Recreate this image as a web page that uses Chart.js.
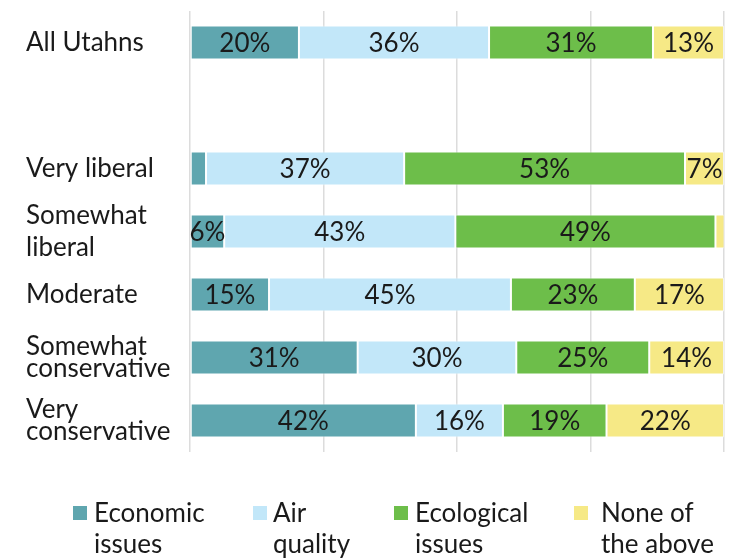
<!DOCTYPE html>
<html>
<head>
<meta charset="utf-8">
<script src="https://cdn.jsdelivr.net/npm/chart.js@4/dist/chart.umd.min.js"></script>
<style>
  html, body { margin: 0; padding: 0; background: #fff; }
  #wrap { width: 736px; height: 558px; }
</style>
</head>
<body>
<div id="wrap"><canvas id="barChart" width="736" height="558"></canvas></div>
<script>
var groups = ['All Utahns', '', 'Very liberal', ['Somewhat', 'liberal'], 'Moderate', ['Somewhat', 'conservative'], ['Very', 'conservative']];
var economic   = [20.4, null, 3.0, 6.4, 14.8, 31.4, 42.3];
var airQuality = [35.6, null, 37.1, 43.3, 45.3, 29.7, 16.3];
var ecological = [30.7, null, 52.6, 48.7, 23.2, 24.9, 19.4];
var noneAbove  = [13.3, null, 7.3, 1.7, 16.7, 14.0, 22.0];
var seriesNames = [['Economic', 'issues'], ['Air', 'quality'], ['Ecological', 'issues'], ['None of', 'the above']];
var xTicks = [0, 25, 50, 75, 100];

var fontName = 'Lato, "Open Sans", sans-serif';

// etiket persen di tengah tiap segmen
var valueLabels = {
    id: 'valueLabels',
    afterDatasetsDraw: function(chart) {
        var ctx = chart.ctx;
        ctx.save();
        ctx.font = '26px ' + fontName;
        ctx.fillStyle = '#1a1a1a';
        ctx.textAlign = 'center';
        ctx.textBaseline = 'middle';
        chart.data.datasets.forEach(function(ds, i) {
            chart.getDatasetMeta(i).data.forEach(function(bar, j) {
                var v = ds.data[j];
                if (v == null || v < 5) return;
                var x = (bar.x + bar.base) / 2;
                ctx.fillText(Math.round(v) + '%', x, bar.y + 1);
            });
        });
        ctx.restore();
    }
};

// legenda dua baris di bawah
var legendX = [73, 253, 394, 574];
var legendGap = [21, 20, 21, 27];
var bottomLegend = {
    id: 'bottomLegend',
    afterDraw: function(chart) {
        var ctx = chart.ctx;
        ctx.save();
        ctx.font = '26px ' + fontName;
        ctx.textBaseline = 'middle';
        ctx.textAlign = 'left';
        chart.data.datasets.forEach(function(ds, i) {
            var x = legendX[i];
            ctx.fillStyle = ds.backgroundColor;
            ctx.fillRect(x, 506, 14, 14);
            ctx.fillStyle = '#1a1a1a';
            seriesNames[i].forEach(function(line, k) {
                ctx.fillText(line, x + legendGap[i], 514 + k * 31);
            });
        });
        ctx.restore();
    }
};

var ctx = document.getElementById('barChart').getContext('2d');
var myChart = new Chart(ctx, {
    type: 'bar',
    data: {
        labels: groups,
        datasets: [
            { label: 'Economic issues', data: economic, backgroundColor: '#5fa6af' },
            { label: 'Air quality', data: airQuality, backgroundColor: '#c2e7f9' },
            { label: 'Ecological issues', data: ecological, backgroundColor: '#6dbe4a' },
            { label: 'None of the above', data: noneAbove, backgroundColor: '#f6e986' }
        ]
    },
    options: {
        indexAxis: 'y',
        responsive: false,
        animation: false,
        datasets: {
            bar: {
                barPercentage: 0.54,
                categoryPercentage: 1,
                borderWidth: 1,
                borderColor: 'rgba(255,255,255,0.6)',
                borderSkipped: false
            }
        },
        layout: { padding: { left: 26, right: 12, top: 11, bottom: 106 } },
        plugins: {
            legend: { display: false },
            tooltip: { enabled: false }
        },
        scales: {
            x: {
                stacked: true,
                min: 0,
                max: 100,
                afterBuildTicks: function(scale) {
                    scale.ticks = xTicks.map(function(v) { return { value: v }; });
                },
                afterFit: function(scale) { scale.height = 0; },
                ticks: { display: false },
                grid: { color: '#dcdcdc', lineWidth: 1.5, drawTicks: false },
                border: { display: false }
            },
            y: {
                stacked: true,
                grid: { display: false },
                border: { display: false },
                afterFit: function(scale) {
                    scale.width = 164;
                    scale.paddingTop = 0;
                    scale.paddingBottom = 0;
                },
                ticks: {
                    autoSkip: false,
                    crossAlign: 'far',
                    color: '#1a1a1a',
                    padding: 0,
                    font: function(c) {
                        return { family: fontName, size: 26, lineHeight: c.index === 3 ? '32px' : '22px' };
                    }
                }
            }
        }
    },
    plugins: [valueLabels, bottomLegend]
});
</script>
</body>
</html>
